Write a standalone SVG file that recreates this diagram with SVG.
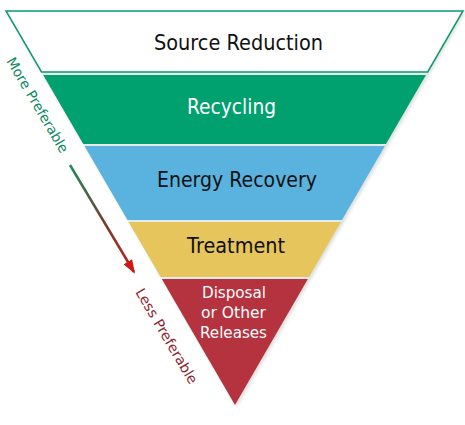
<svg xmlns="http://www.w3.org/2000/svg" width="465" height="425" viewBox="0 0 465 425">
  <style>
    .lbl { font-family: "DejaVu Sans", Verdana, sans-serif; text-anchor: middle; }
    .big { font-size: 22px; }
    .small { font-size: 16px; fill: #ffffff; }
    .side { font-family: "DejaVu Sans", Verdana, sans-serif; font-size: 14px; }
  </style>
  <defs>
    <linearGradient id="arrowGrad" gradientUnits="userSpaceOnUse" x1="70" y1="165" x2="137" y2="277">
      <stop offset="0" stop-color="#1f8a5c"/>
      <stop offset="0.55" stop-color="#7a3a2a"/>
      <stop offset="1" stop-color="#d01818"/>
    </linearGradient>
    <marker id="head" markerWidth="14" markerHeight="10" refX="12" refY="5" orient="auto" markerUnits="userSpaceOnUse">
      <path d="M0,0 L14,5 L0,10 Z" fill="#d01818"/>
    </marker>
    <filter id="shadow" x="-10%" y="-10%" width="120%" height="120%">
      <feGaussianBlur stdDeviation="1.5"/>
    </filter>
  </defs>
  <rect width="465" height="425" fill="#ffffff"/>
  <polygon points="8,13 465,13 237,407" fill="#c9cccb" filter="url(#shadow)" opacity="0.6"/>
  <polygon points="6,11 463,11 235,405" fill="#e6ebe9"/>

  <g id="source-reduction">
    <polygon points="6,11 463,11 427.7,72 41.5,72" fill="#ffffff" stroke="#0a9a6c" stroke-width="1.5"/>
    <text class="lbl big" x="238.5" y="50" fill="#111111" textLength="169" lengthAdjust="spacingAndGlyphs">Source Reduction</text>
  </g>
  <g id="recycling">
    <polygon points="43.2,75 426,75 386,144 83.3,144" fill="#00a06f"/>
    <text class="lbl big" x="231.5" y="114" fill="#ffffff" textLength="89" lengthAdjust="spacingAndGlyphs">Recycling</text>
  </g>
  <g id="energy-recovery">
    <polygon points="84.5,146 384.9,146 342,220 127.5,220" fill="#5ab3df"/>
    <text class="lbl big" x="237" y="187" fill="#111111" textLength="160" lengthAdjust="spacingAndGlyphs">Energy Recovery</text>
  </g>
  <g id="treatment">
    <polygon points="128.6,222 340.9,222 309.1,277 160.6,277" fill="#e6c55c"/>
    <text class="lbl big" x="236" y="253" fill="#111111" textLength="98" lengthAdjust="spacingAndGlyphs">Treatment</text>
  </g>
  <g id="disposal">
    <polygon points="161.8,279 307.9,279 235,405" fill="#b5323f"/>
    <text class="lbl small" x="234" y="298" textLength="64" lengthAdjust="spacingAndGlyphs">Disposal</text>
    <text class="lbl small" x="233.5" y="318" textLength="65" lengthAdjust="spacingAndGlyphs">or Other</text>
    <text class="lbl small" x="233.5" y="338" textLength="67" lengthAdjust="spacingAndGlyphs">Releases</text>
  </g>

  <g id="more-preferable">
    <text class="side" transform="translate(6,61) rotate(59.5)" fill="#0c8a5e" textLength="108" lengthAdjust="spacingAndGlyphs">More Preferable</text>
  </g>
  <g id="less-preferable">
    <text class="side" transform="translate(135,292) rotate(59.5)" fill="#8e1f2f" textLength="108" lengthAdjust="spacingAndGlyphs">Less Preferable</text>
  </g>

  <g id="connectors">
    <line x1="70" y1="165" x2="134" y2="272" stroke="url(#arrowGrad)" stroke-width="2.5" marker-end="url(#head)"/>
  </g>
</svg>
